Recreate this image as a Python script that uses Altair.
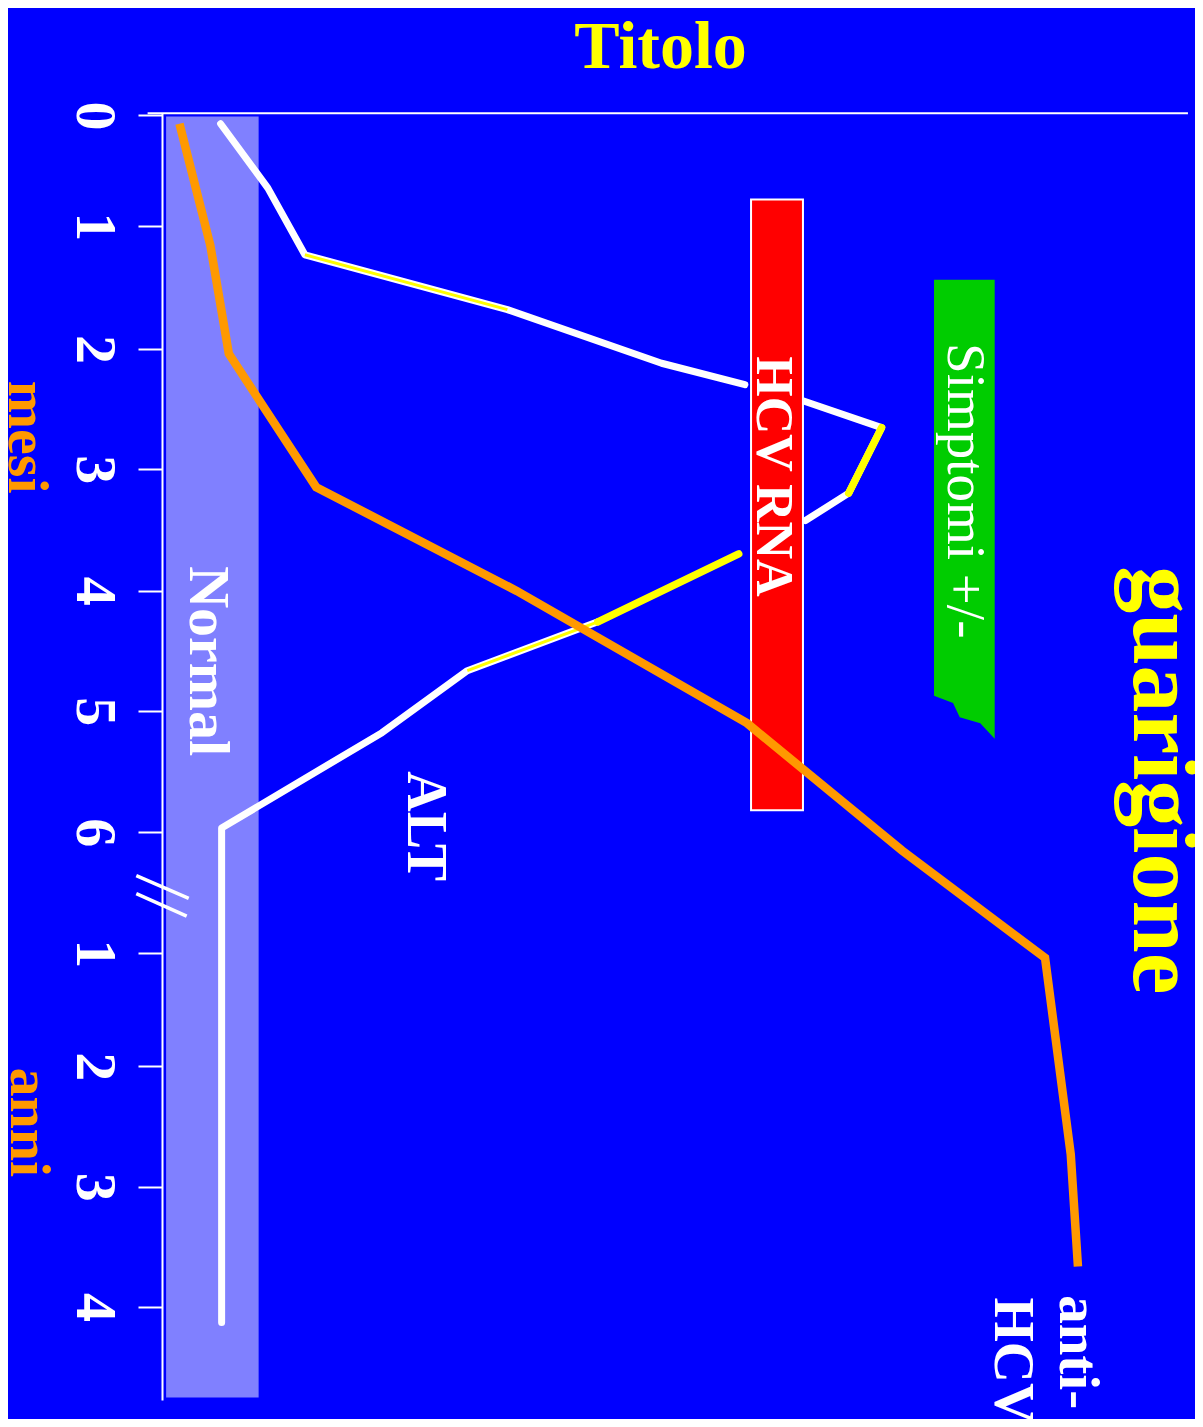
import altair as alt
import pandas as pd

# ---------------- data (x: arbitrary level 0-100, t: time index) -------------
tick_pos = [0.0, 0.93, 1.96, 2.97, 3.99, 5.0, 6.015, 7.03, 7.98, 8.99, 10.0]
tick_labels = ["0", "1", "2", "3", "4", "5", "6", "1", "2", "3", "4"]

# ALT curve (visible white pieces)
alt_x = [5.7, 10.3, 13.9, 33.6, 48.6, 56.7, 62.2, 70.0, 66.8, 62.6, 42.4, 29.7, 21.4, 5.8, 5.8]
alt_t = [0.07, 0.61, 1.17, 1.63, 2.08, 2.26, 2.39, 2.62, 3.17, 3.40, 4.25, 4.66, 5.18, 5.98, 10.13]
alt_seg = [0, 0, 0, 0, 0, 0, 1, 1, 1, 1, 2, 2, 2, 2, 2]

# anti-HCV curve
anti_x = [1.7, 4.7, 6.5, 15.0, 34.5, 56.9, 72.0, 85.9, 88.4, 89.1]
anti_t = [0.07, 1.09, 2.00, 3.12, 3.99, 5.10, 6.17, 7.07, 8.72, 9.66]

# yellow highlights
yel_thick_x = [70.0, 66.8, 56.1, 42.4]
yel_thick_t = [2.62, 3.17, 3.68, 4.25]
yel_thick_seg = [0, 0, 1, 1]
yel_thin_x = [13.9, 33.6, 42.4, 29.7]
yel_thin_t = [1.17, 1.63, 4.25, 4.66]
yel_thin_seg = [0, 0, 1, 1]

# "Normal" band
normal_x = [0.4, 9.4]
normal_t = [0.01, 10.76]

# HCV RNA box
rna_x = [57.3, 62.35]
rna_t = [0.705, 5.83]

# Simptomi box (jagged end)
simp_t = [1.38, 4.87, 4.93, 5.05, 5.10, 5.23]
simp_xl = [75.1, 75.1, 76.95, 77.6, 79.6, 81.0]
simp_xr = [81.0, 81.0, 81.0, 81.0, 81.0, 81.0]

# axis break marks "//"
brk_x = [-2.5, -2.5]
brk_x2 = [2.6, 2.4]
brk_t = [6.38, 6.53]
brk_t2 = [6.57, 6.72]

# top frame line
top_x = [-1.4]
top_x2 = [99.8]
top_t = [-0.017]

# text annotations
ann_text = ["Titolo", "guarigione", "Simptomi +/-", "HCV RNA", "Normal", "ALT",
            "anti-", "HCV", "mesi", "anni"]
ann_x = [48.5, 94.55, 76.5, 57.9, 2.7, 23.9, 87.35, 81.0, -14.85, -14.7]
ann_t = [-0.40, 5.58, 3.15, 3.03, 4.58, 5.965, 9.90, 9.92, 2.70, 8.45]

# ---------------- chart -------------------------------------------------------------
BLUE = "#0000FF"
ORANGE = "#FF9900"
YELLOW = "#FFFF00"
FONT = "Liberation Serif"

xscale = alt.Scale(domain=[0, 100], nice=False, zero=False)
yscale = alt.Scale(domain=[-0.02, 10.78], reverse=True, nice=False, zero=False)

label_expr = ("[" + ",".join("'%s'" % s for s in tick_labels) + "][indexof(["
              + ",".join(repr(p) for p in tick_pos) + "], datum.value)]")
yaxis = alt.Axis(values=tick_pos, labelExpr=label_expr, labelAngle=90,
                 labelAlign="center", labelBaseline="alphabetic",
                 labelFont=FONT, labelFontWeight="bold", labelFontSize=58,
                 labelColor="white", labelPadding=62, labelOverlap=False,
                 labelFlush=False, labelBound=False,
                 tickSize=24, tickWidth=2, tickColor="white",
                 domainColor="white", domainWidth=2, grid=False, title=None)


def X(f):
    return alt.X(f, type="quantitative", scale=xscale, axis=None)


def Y(f):
    return alt.Y(f, type="quantitative", scale=yscale, axis=yaxis)


band = alt.Chart(pd.DataFrame({"x1": [normal_x[0]], "x2": [normal_x[1]],
                               "t1": [normal_t[0]], "t2": [normal_t[1]]})).mark_rect(
    fill="#8080FF").encode(x=X("x1"), x2="x2", y=Y("t1"), y2="t2")

alt_df = pd.DataFrame({"x": alt_x, "t": alt_t, "seg": alt_seg, "i": range(len(alt_x))})
alt_line = alt.Chart(alt_df).mark_line(color="white", strokeWidth=7, strokeCap="round",
                                       strokeJoin="round").encode(
    x=X("x"), y=Y("t"), detail="seg:N", order="i:Q")

thin_df = pd.DataFrame({"x": yel_thin_x, "t": yel_thin_t, "seg": yel_thin_seg,
                        "i": range(len(yel_thin_x))})
thin_line = alt.Chart(thin_df).mark_line(color=YELLOW, strokeWidth=3).encode(
    x=X("x"), y=Y("t"), detail="seg:N", order="i:Q")

thick_df = pd.DataFrame({"x": yel_thick_x, "t": yel_thick_t, "seg": yel_thick_seg,
                         "i": range(len(yel_thick_x))})
thick_line = alt.Chart(thick_df).mark_line(color=YELLOW, strokeWidth=7.5,
                                           strokeCap="round").encode(
    x=X("x"), y=Y("t"), detail="seg:N", order="i:Q")

simp_df = pd.DataFrame({"t": simp_t, "xl": simp_xl, "xr": simp_xr})
simp = alt.Chart(simp_df).mark_area(orient="horizontal", color="#00CC00").encode(
    y=Y("t"), x=X("xl"), x2="xr")

rna = alt.Chart(pd.DataFrame({"x1": [rna_x[0]], "x2": [rna_x[1]],
                              "t1": [rna_t[0]], "t2": [rna_t[1]]})).mark_rect(
    fill="#FF0000", stroke="white", strokeWidth=2).encode(
    x=X("x1"), x2="x2", y=Y("t1"), y2="t2")

anti_df = pd.DataFrame({"x": anti_x, "t": anti_t, "i": range(len(anti_x))})
anti_line = alt.Chart(anti_df).mark_line(color=ORANGE, strokeWidth=8.5).encode(
    x=X("x"), y=Y("t"), order="i:Q")

brk = alt.Chart(pd.DataFrame({"x": brk_x, "x2": brk_x2, "t": brk_t, "t2": brk_t2})).mark_rule(
    color="white", strokeWidth=3.5).encode(x=X("x"), x2="x2", y=Y("t"), y2="t2")

top = alt.Chart(pd.DataFrame({"x": top_x, "x2": top_x2, "t": top_t})).mark_rule(
    color="white", strokeWidth=2).encode(x=X("x"), x2="x2", y=Y("t"))

styles = {
    "Titolo": dict(size=68, color=YELLOW, angle=0, align="center", weight="bold"),
    "guarigione": dict(size=94, color=YELLOW, angle=90, align="center", weight="bold"),
    "Simptomi +/-": dict(size=55, color="white", angle=90, align="center", weight="normal"),
    "HCV RNA": dict(size=52, color="white", angle=90, align="center", weight="bold"),
    "Normal": dict(size=58, color="white", angle=90, align="center", weight="bold"),
    "ALT": dict(size=56, color="white", angle=90, align="center", weight="bold"),
    "anti-": dict(size=57, color="white", angle=90, align="left", weight="bold"),
    "HCV": dict(size=57, color="white", angle=90, align="left", weight="bold"),
    "mesi": dict(size=58, color=ORANGE, angle=90, align="center", weight="bold"),
    "anni": dict(size=58, color=ORANGE, angle=90, align="center", weight="bold"),
}

texts = []
for s, xv, tv in zip(ann_text, ann_x, ann_t):
    st = styles[s]
    texts.append(
        alt.Chart(pd.DataFrame({"x": [xv], "t": [tv], "txt": [s]})).mark_text(
            font=FONT, fontWeight=st["weight"], fontSize=st["size"], color=st["color"],
            angle=st["angle"], align=st["align"], baseline="alphabetic").encode(
            x=X("x"), y=Y("t"), text="txt:N"))

chart = alt.layer(band, alt_line, thin_line, thick_line, simp, rna, anti_line, brk, top,
                  *texts).properties(
    width=1028, height=1287,
    padding={"left": 154, "top": 105, "right": 5, "bottom": 19},
    autosize=alt.AutoSizeParams(type="none"),
    background=BLUE,
).configure_view(stroke=None)

chart.save("out.html", embed_options={"renderer": "svg", "actions": False})
